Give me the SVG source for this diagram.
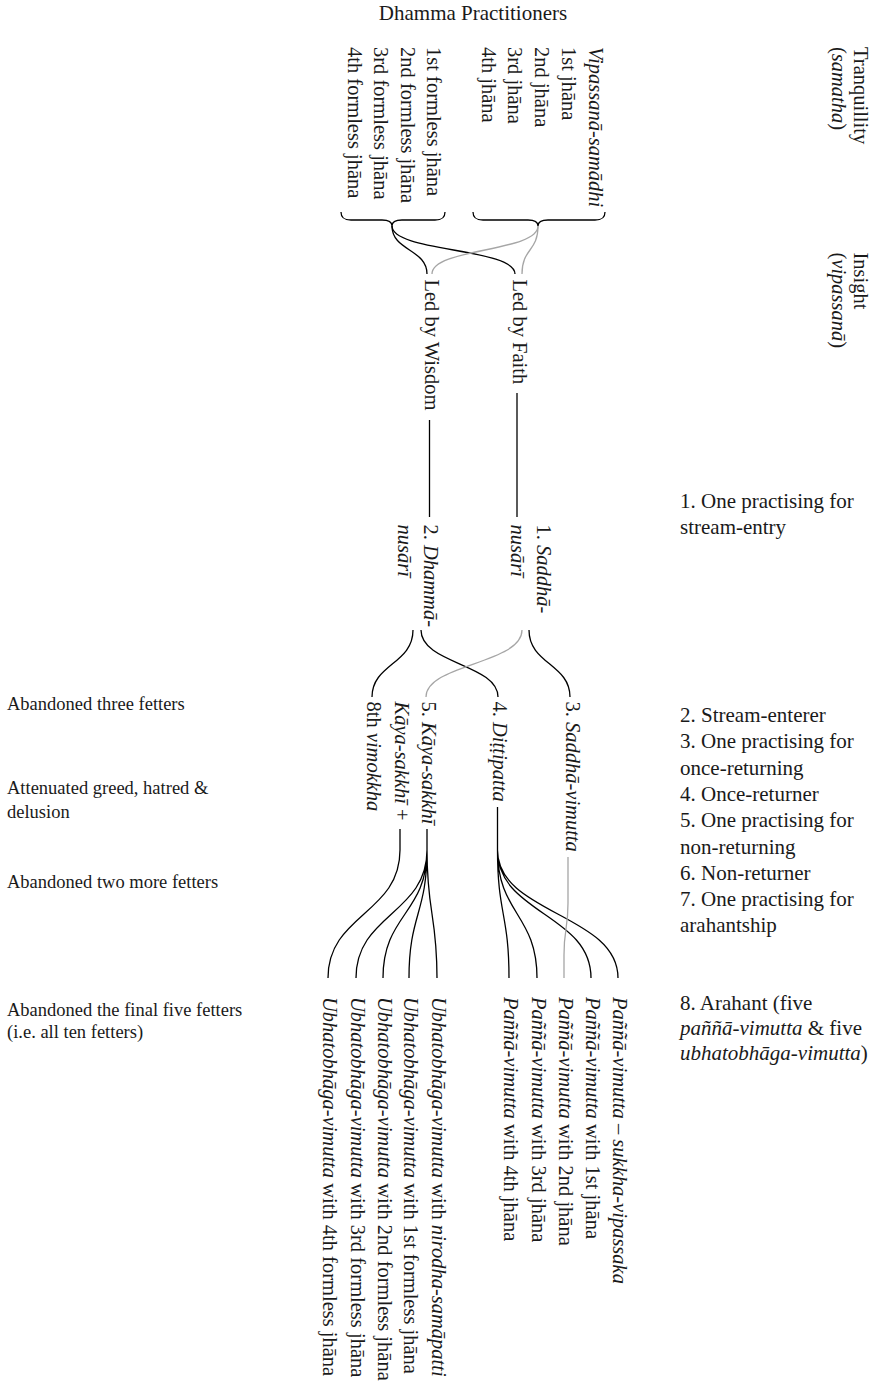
<svg xmlns="http://www.w3.org/2000/svg" width="881" height="1385" viewBox="0 0 881 1385">
<style>
text { font-family: "Liberation Serif", "Times New Roman", serif; fill: #1a1a1a; }
.r { font-size: 20.5px; }
.h { font-size: 21px; }
.s { font-size: 18.5px; }
.i { font-style: italic; }
.c { fill: none; stroke: #000; stroke-width: 1.3; }
.g { fill: none; stroke: #a6a6a6; stroke-width: 1.3; }
.b { fill: none; stroke: #000; stroke-width: 1.3; }
</style>
<rect width="881" height="1385" fill="#fff"/>

<g id="title"><text class="h" x="473" y="19.5" text-anchor="middle">Dhamma Practitioners</text></g>

<g id="formless-jhanas">
<text class="r" transform="translate(427,47) rotate(90)">1st formless jhāna</text>
<text class="r" transform="translate(400.5,47) rotate(90)">2nd formless jhāna</text>
<text class="r" transform="translate(374,47) rotate(90)">3rd formless jhāna</text>
<text class="r" transform="translate(347.5,47) rotate(90)">4th formless jhāna</text>
<path class="b" d="M341,212 C341,218 344,220 351,220 H382 C388,220 392,222 392,226 C392,222 396,220 402,220 H435 C442,220 445,218 445,212"/>
</g>

<g id="jhanas">
<text class="r i" transform="translate(588.5,47) rotate(90)">Vipassanā-samādhi</text>
<text class="r" transform="translate(561.5,47) rotate(90)">1st jhāna</text>
<text class="r" transform="translate(535,47) rotate(90)">2nd jhāna</text>
<text class="r" transform="translate(508,47) rotate(90)">3rd jhāna</text>
<text class="r" transform="translate(481.5,47) rotate(90)">4th jhāna</text>
<path class="b" d="M473,212 C473,218 476,220 483,220 H528 C534,220 538,222 538,226 C538,222 542,220 548,220 H595 C602,220 605,218 605,212"/>
</g>

<g id="led-by-wisdom"><text class="r" transform="translate(424.5,279.5) rotate(90)">Led by Wisdom</text></g>
<g id="led-by-faith"><text class="r" transform="translate(513,279.5) rotate(90)">Led by Faith</text></g>

<g id="dhammanusari">
<text class="r" transform="translate(424,524.5) rotate(90)">2. <tspan class="i">Dhammā-</tspan></text>
<text class="r i" transform="translate(397.5,524.5) rotate(90)">nusārī</text>
</g>
<g id="saddhanusari">
<text class="r" transform="translate(536.5,524.5) rotate(90)">1. <tspan class="i">Saddhā-</tspan></text>
<text class="r i" transform="translate(510.5,524.5) rotate(90)">nusārī</text>
</g>

<g id="kayasakkhi-8th">
<text class="r" transform="translate(394.5,701.5) rotate(90)"><tspan class="i">Kāya-sakkhī</tspan> +</text>
<text class="r" transform="translate(366.5,701.5) rotate(90)">8th <tspan class="i">vimokkha</tspan></text>
</g>
<g id="kayasakkhi"><text class="r" transform="translate(421.5,701.5) rotate(90)">5. <tspan class="i">Kāya-sakkhī</tspan></text></g>
<g id="ditthipatta"><text class="r" transform="translate(493,701.5) rotate(90)">4. <tspan class="i">Diṭṭipatta</tspan></text></g>
<g id="saddhavimutta"><text class="r" transform="translate(566,701.5) rotate(90)">3. <tspan class="i">Saddhā-vimutta</tspan></text></g>

<g id="panna-sukkha"><text class="r i" transform="translate(612.5,997) rotate(90)">Paññā-vimutta – sukkha-vipassaka</text></g>
<g id="panna-1"><text class="r" transform="translate(585.5,997) rotate(90)"><tspan class="i">Paññā-vimutta</tspan> with 1st jhāna</text></g>
<g id="panna-2"><text class="r" transform="translate(558.5,997) rotate(90)"><tspan class="i">Paññā-vimutta</tspan> with 2nd jhāna</text></g>
<g id="panna-3"><text class="r" transform="translate(531.5,997) rotate(90)"><tspan class="i">Paññā-vimutta</tspan> with 3rd jhāna</text></g>
<g id="panna-4"><text class="r" transform="translate(503.5,997) rotate(90)"><tspan class="i">Paññā-vimutta</tspan> with 4th jhāna</text></g>

<g id="ubhato-nirodha"><text class="r" transform="translate(431.5,997) rotate(90)"><tspan class="i">Ubhatobhāga-vimutta</tspan> with <tspan class="i">nirodha-samāpatti</tspan></text></g>
<g id="ubhato-1"><text class="r" transform="translate(403.5,997) rotate(90)"><tspan class="i">Ubhatobhāga-vimutta</tspan> with 1st formless jhāna</text></g>
<g id="ubhato-2"><text class="r" transform="translate(377.5,997) rotate(90)"><tspan class="i">Ubhatobhāga-vimutta</tspan> with 2nd formless jhāna</text></g>
<g id="ubhato-3"><text class="r" transform="translate(350.5,997) rotate(90)"><tspan class="i">Ubhatobhāga-vimutta</tspan> with 3rd formless jhāna</text></g>
<g id="ubhato-4"><text class="r" transform="translate(322.5,997) rotate(90)"><tspan class="i">Ubhatobhāga-vimutta</tspan> with 4th formless jhāna</text></g>

<g id="right-axis">
<text class="r" transform="translate(854,47) rotate(90)">Tranquillity</text>
<text class="r" transform="translate(832,47) rotate(90)">(<tspan class="i">samatha</tspan>)</text>
<text class="r" transform="translate(854,252.5) rotate(90)">Insight</text>
<text class="r" transform="translate(832,252.5) rotate(90)">(<tspan class="i">vipassanā</tspan>)</text>
</g>

<g id="stages">
<text class="h" x="680" y="508">1. One practising for</text>
<text class="h" x="680" y="534">stream-entry</text>
<text class="h" x="680" y="722">2. Stream-enterer</text>
<text class="h" x="680" y="748.3">3. One practising for</text>
<text class="h" x="680" y="774.6">once-returning</text>
<text class="h" x="680" y="801">4. Once-returner</text>
<text class="h" x="680" y="827.2">5. One practising for</text>
<text class="h" x="680" y="853.5">non-returning</text>
<text class="h" x="680" y="879.8">6. Non-returner</text>
<text class="h" x="680" y="906">7. One practising for</text>
<text class="h" x="680" y="932.4">arahantship</text>
<text class="h" x="680" y="1010">8. Arahant (five</text>
<text class="h" x="680" y="1035"><tspan class="i">paññā-vimutta</tspan> &amp; five</text>
<text class="h" x="680" y="1060"><tspan class="i">ubhatobhāga-vimutta</tspan>)</text>
</g>

<g id="fetters">
<text class="s" x="7" y="710">Abandoned three fetters</text>
<text class="s" x="7" y="794">Attenuated greed, hatred &amp;</text>
<text class="s" x="7" y="817.5">delusion</text>
<text class="s" x="7" y="888">Abandoned two more fetters</text>
<text class="s" x="7" y="1015.5">Abandoned the final five fetters</text>
<text class="s" x="7" y="1038">(i.e. all ten fetters)</text>
</g>

<g id="connectors">
<path class="c" d="M392,226 C392,251 427,249 427,274"/>
<path class="c" d="M392,226 C392,252 515,248 515,274"/>
<path class="g" d="M538,226 C538,252 522,248 522,274"/>
<path class="g" d="M538,226 C538,252 432,248 432,274"/>
<path class="c" d="M429.5,420 V517"/>
<path class="c" d="M517,393 V517"/>
<path class="c" d="M413,630 C413,664 372,664 372,697"/>
<path class="c" d="M421,630 C421,664 498,664 498,697"/>
<path class="g" d="M522,630 C522,664 426,664 426,697"/>
<path class="c" d="M529,630 C529,664 570,664 570,697"/>
<path class="c" d="M427,829 V850 C427,914 437,914 437,978 M427,850 C427,914 409,914 409,978 M427,850 C427,914 383,914 383,978 M427,850 C427,914 356,914 356,978"/>
<path class="c" d="M400,829 V850 C400,914 328,914 328,978"/>
<path class="c" d="M497.5,807 V850 C497.5,914 509,914 509,978 M497.5,850 C497.5,914 537,914 537,978 M497.5,850 C497.5,914 591,914 591,978 M497.5,850 C497.5,914 618,914 618,978"/>
<path class="g" d="M568,857 V903 C568,930 564,928 564,955 V978"/>
</g>
</svg>
